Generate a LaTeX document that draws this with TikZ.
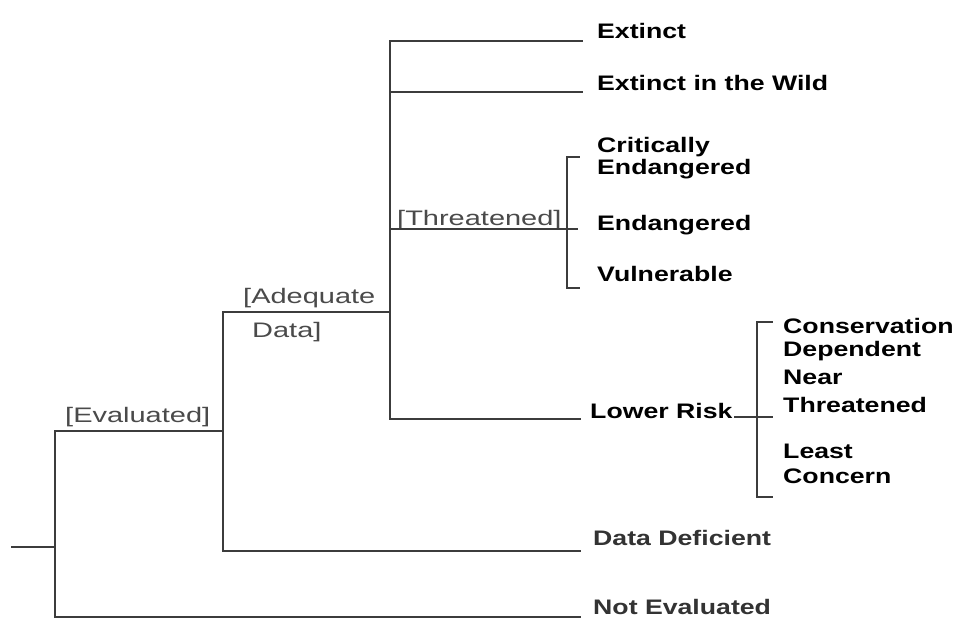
\documentclass[tikz,border=0pt]{standalone}
\usepackage{fontspec}
\newfontfamily\boldlab[FakeStretch=1.27]{Liberation Sans Bold}
\newfontfamily\reglab[FakeStretch=1.38]{Liberation Sans}
\definecolor{linegray}{HTML}{3C3C3C}
\definecolor{catgray}{HTML}{4A4A4A}
\definecolor{dimgray}{HTML}{333333}
\begin{document}
\begin{tikzpicture}[x=1pt,y=-1pt,
  lab/.style={anchor=base west, inner sep=0pt, font=\boldlab\fontsize{21}{23}\selectfont},
  dimlab/.style={lab, text=dimgray},
  cat/.style={anchor=base west, inner sep=0pt, text=catgray, font=\reglab\fontsize{21}{23}\selectfont},
  br/.style={draw=linegray, line width=2pt, line cap=rect}]
\useasboundingbox[fill=white] (0,0) rectangle (955,619);

% junction coordinates
\coordinate (root) at (12,547);
\coordinate (rj) at (55,547);
\coordinate (ev) at (55,431);
\coordinate (ne) at (55,617);
\coordinate (neE) at (580,617);
\coordinate (evj) at (223,431);
\coordinate (ad) at (223,312);
\coordinate (dd) at (223,551);
\coordinate (ddE) at (580,551);
\coordinate (adj) at (390,312);
\coordinate (ex) at (390,41);
\coordinate (exE) at (582,41);
\coordinate (ew) at (390,92);
\coordinate (ewE) at (582,92);
\coordinate (th) at (390,229);
\coordinate (thE) at (577,229);
\coordinate (lr) at (390,419);
\coordinate (lrE) at (580,419);
\coordinate (tbT) at (567,157);
\coordinate (tbTe) at (579,157);
\coordinate (tbB) at (567,288);
\coordinate (tbBe) at (579,288);
\coordinate (lrs) at (735,417);
\coordinate (lrsE) at (772,417);
\coordinate (lbT) at (757,322);
\coordinate (lbTe) at (772,322);
\coordinate (lbB) at (757,497);
\coordinate (lbBe) at (772,497);

% labels
\node[lab] (extinct) at (597,38) {Extinct};
\node[lab] (wild) at (597,90) {Extinct in the Wild};
\node[lab] (cr1) at (597,152) {Critically};
\node[lab] (cr2) at (597,174) {Endangered};
\node[lab] (en) at (597,230) {Endangered};
\node[lab] (vu) at (597,281) {Vulnerable};
\node[lab] (lowrisk) at (590,418) {Lower Risk};
\node[lab] (cd1) at (783,333) {Conservation};
\node[lab] (cd2) at (783,356) {Dependent};
\node[lab] (nt1) at (783,384) {Near};
\node[lab] (nt2) at (783,412) {Threatened};
\node[lab] (lc1) at (783,458) {Least};
\node[lab] (lc2) at (783,483) {Concern};
\node[dimlab] (ddl) at (593,545) {Data Deficient};
\node[dimlab] (nel) at (593,614) {Not Evaluated};

\node[cat] (evl) at (65,422) {[Evaluated]};
\node[cat] (ad1) at (243,303) {[Adequate};
\node[cat] (ad2) at (252,337) {Data]};
\node[cat] (thl) at (397,225) {[Threatened]};

% connectors
\draw[br] (root) -- (rj);
\draw[br] (neE) -- (ne) -- (ev) -- (evj);
\draw[br] (ddE) -- (dd) -- (ad) -- (adj);
\draw[br] (exE) -- (ex) -- (lr) -- (lrE);
\draw[br] (ew) -- (ewE);
\draw[br] (th) -- (thE);
\draw[br] (tbTe) -- (tbT) -- (tbB) -- (tbBe);
\draw[br] (lrs) -- (lrsE);
\draw[br] (lbTe) -- (lbT) -- (lbB) -- (lbBe);
\end{tikzpicture}
\end{document}
